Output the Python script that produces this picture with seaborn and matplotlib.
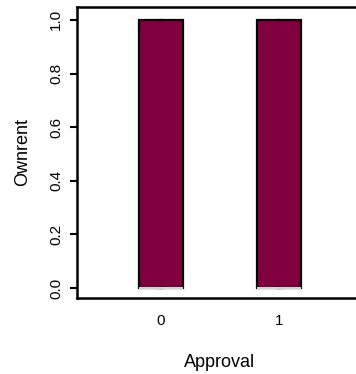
import matplotlib
matplotlib.use("Agg")
import matplotlib.pyplot as plt
import seaborn as sns
import pandas as pd

# Raw observations (binary Ownrent per Approval group) summarised by the box plot
approval = [0, 0, 0, 0, 0, 1, 1, 1, 1, 1]
ownrent = [0, 0, 0, 1, 1, 0, 0, 0, 1, 1]
x_tick_labels = ["0", "1"]
y_ticks = [0.0, 0.2, 0.4, 0.6, 0.8, 1.0]

df = pd.DataFrame({"Approval": [str(a) for a in approval], "Ownrent": ownrent})

sns.set_style("white")
plt.rcParams["font.family"] = ["Liberation Sans", "DejaVu Sans"]

fig = plt.figure(figsize=(3.56, 3.74), dpi=100)
ax = fig.add_axes([77 / 356, (374 - 297.7) / 374, (363 - 77) / 356, (297.7 - 7.3) / 374])

sns.boxplot(
    data=df, x="Approval", y="Ownrent", order=x_tick_labels, ax=ax,
    color="#80003F", saturation=1, width=0.373, linewidth=1.6, linecolor="black",
    whis=1.5, showfliers=False,
    medianprops=dict(color="white", linewidth=1.2),
    capprops=dict(color="black", linewidth=1.6),
    capwidths=0.03,
)

ax.set_xlim(-0.71, 1.71)
ax.set_ylim(-0.036, 1.047)
ax.set_yticks(y_ticks)
ax.set_yticklabels([f"{v:.1f}" for v in y_ticks], rotation=90, va="center")

for name, s in ax.spines.items():
    s.set_visible(name != "right")
    s.set_color("black")
    s.set_linewidth(1.8)

ax.tick_params(axis="y", which="both", left=True, length=5, width=1.5, pad=5,
               labelsize=11, color="black", labelcolor="black")
ax.tick_params(axis="x", which="both", bottom=False, length=0, pad=11.5,
               labelsize=11, labelcolor="black")

ax.set_xlabel("Approval", fontsize=13, labelpad=19, color="black")
ax.set_ylabel("Ownrent", fontsize=13, labelpad=13, color="black")

fig.savefig("out.png", dpi=100)
